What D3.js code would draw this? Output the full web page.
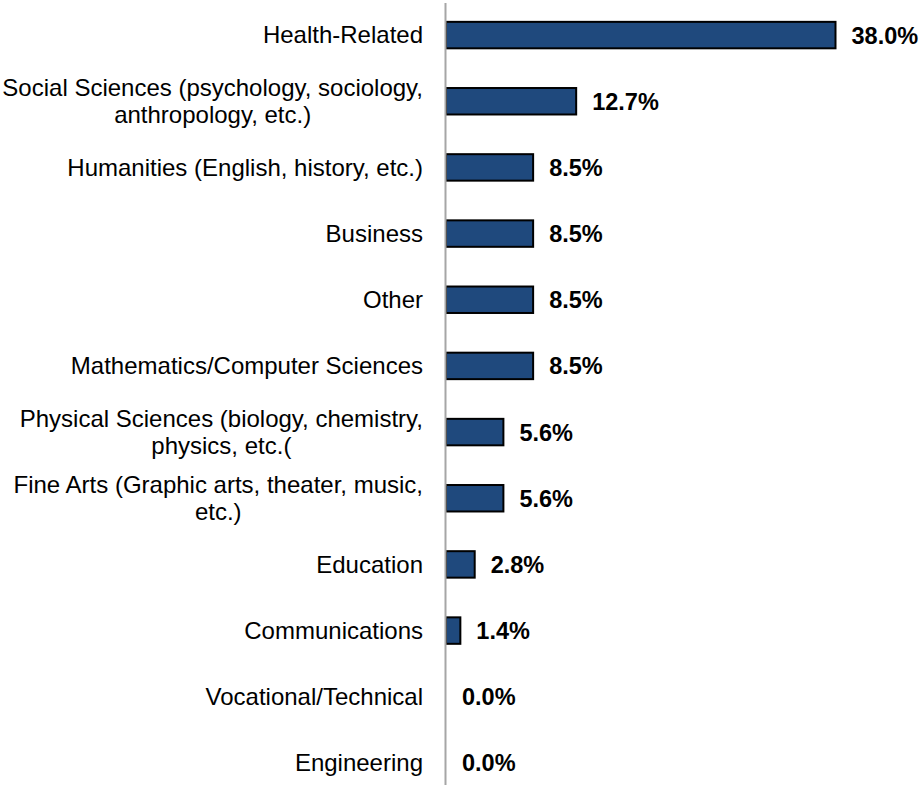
<!DOCTYPE html>
<html>
<head>
<meta charset="utf-8">
<script src="https://cdn.jsdelivr.net/npm/d3@7"></script>
<style>
  html, body { margin: 0; padding: 0; background: #fff; }
  svg { display: block; font-family: Arial, "Liberation Sans", sans-serif; }
</style>
</head>
<body>
<svg id="chart" width="924" height="785"></svg>
<script>
// Fields of study, top to bottom; "\n" marks a line break in the label
const categories = [
  "Health-Related",
  "Social Sciences (psychology, sociology,\nanthropology, etc.)",
  "Humanities (English, history, etc.)",
  "Business",
  "Other",
  "Mathematics/Computer Sciences",
  "Physical Sciences (biology, chemistry,\nphysics, etc.(",
  "Fine Arts (Graphic arts, theater, music,\netc.)",
  "Education",
  "Communications",
  "Vocational/Technical",
  "Engineering"
];
// Share of respondents, percent
const values = [38.0, 12.7, 8.5, 8.5, 8.5, 8.5, 5.6, 5.6, 2.8, 1.4, 0.0, 0.0];

const svg = d3.select("#chart");
const axisX = 446;
const labelRight = 423;

const x = d3.scaleLinear().domain([0, 38]).range([axisX, 835.5]);
const y = d3.scaleBand().domain(categories).range([2, 796]).paddingInner(0.6).paddingOuter(0.3);

const data = categories.map((c, i) => ({ cat: c, val: values[i] }));

// Bars
svg.append("g").selectAll("rect")
  .data(data.filter(d => d.val > 0))
  .join("rect")
  .attr("x", x(0))
  .attr("y", d => y(d.cat))
  .attr("width", d => x(d.val) - x(0))
  .attr("height", y.bandwidth())
  .attr("fill", "#1F497D")
  .attr("stroke", "#000")
  .attr("stroke-width", 2);

// Category axis line
svg.append("line")
  .attr("x1", axisX - 0.5).attr("x2", axisX - 0.5)
  .attr("y1", 3).attr("y2", 785)
  .attr("stroke", "#a6a6a6")
  .attr("stroke-width", 2);

// Category labels: block right-aligned to the axis, wrapped lines centred within the block
const lineH = 27.5;
const labels = svg.append("g").selectAll("text")
  .data(data)
  .join("text")
  .attr("font-size", 24)
  .attr("fill", "#000")
  .attr("text-anchor", "middle");

labels.each(function(d) {
  const lines = d.cat.split("\n");
  const t = d3.select(this);
  const cy = y(d.cat) + y.bandwidth() / 2;
  const start = -(lines.length - 1) * lineH / 2;
  const spans = lines.map((ln, i) =>
    t.append("tspan")
      .attr("y", cy + start + i * lineH)
      .attr("dy", "0.35em")
      .text(ln));
  const maxW = d3.max(spans, s => s.node().getComputedTextLength());
  spans.forEach(s => s.attr("x", labelRight - maxW / 2));
});

// Value labels
svg.append("g").selectAll("text")
  .data(data)
  .join("text")
  .attr("x", d => x(d.val) + 16)
  .attr("y", d => y(d.cat) + y.bandwidth() / 2)
  .attr("dy", "0.36em")
  .attr("font-size", 23.5)
  .attr("font-weight", "bold")
  .attr("fill", "#000")
  .text(d => d3.format(".1f")(d.val) + "%");
</script>
</body>
</html>
